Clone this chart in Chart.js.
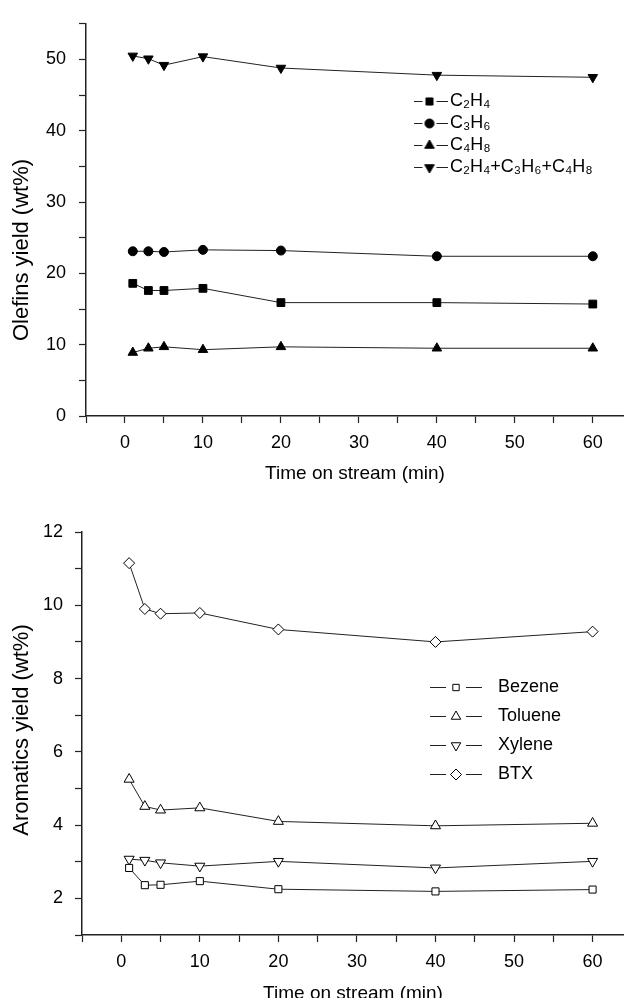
<!DOCTYPE html>
<html>
<head>
<meta charset="utf-8">
<script src="https://cdn.jsdelivr.net/npm/chart.js@4.4.1/dist/chart.umd.min.js"></script>
<style>
  html, body { margin: 0; padding: 0; background: #fff; overflow: hidden; }
  canvas { position: absolute; left: 0; }
  #olefinsChart { top: 0; }
  #aromaticsChart { top: 488px; }
</style>
</head>
<body>
<canvas id="olefinsChart" width="624" height="488"></canvas>
<canvas id="aromaticsChart" width="624" height="520"></canvas>
<script>
// time on stream (min)
const times = [1, 3, 5, 10, 20, 40, 60];

// olefins yield (wt%)
const ethylene = [18.6, 17.6, 17.6, 17.9, 15.9, 15.9, 15.7];
const propylene = [23.1, 23.1, 23.0, 23.3, 23.2, 22.4, 22.4];
const butylene = [8.9, 9.5, 9.7, 9.3, 9.7, 9.5, 9.5];
const olefinsTotal = [50.5, 50.1, 49.2, 50.4, 48.8, 47.8, 47.5];

// aromatics yield (wt%)
const benzene = [2.83, 2.36, 2.37, 2.47, 2.25, 2.19, 2.24];
const toluene = [5.25, 4.51, 4.41, 4.47, 4.10, 3.98, 4.05];
const xylene = [3.07, 3.04, 2.97, 2.88, 3.01, 2.83, 3.01];
const btx = [11.15, 9.90, 9.77, 9.79, 9.34, 9.00, 9.28];

const olefinLabels = ['C₂H₄', 'C₃H₆', 'C₄H₈', 'C₂H₄+C₃H₆+C₄H₈'];
const aromaticLabels = ['Bezene', 'Toluene', 'Xylene', 'BTX'];

Chart.defaults.font.family = "'Liberation Sans', Arial, sans-serif";
Chart.defaults.color = '#000';

function series(label, values, style, rotation, radius, fill) {
  return {
    label: label,
    data: times.map((t, i) => ({ x: t, y: values[i] })),
    borderColor: '#222',
    borderWidth: 1,
    tension: 0,
    pointStyle: style,
    pointRotation: rotation,
    pointRadius: radius,
    pointBackgroundColor: fill,
    pointBorderColor: '#000',
    pointBorderWidth: 1
  };
}

// little "—marker—" picture for the legend
function legendSymbol(style, rotation, radius, fill, width, gap) {
  const c = document.createElement('canvas');
  c.width = width;
  c.height = 16;
  const g = c.getContext('2d');
  const mid = width / 2, y = 8.5;
  g.strokeStyle = '#222';
  g.lineWidth = 1;
  g.beginPath();
  g.moveTo(0, y); g.lineTo(mid - gap, y);
  g.moveTo(mid + gap, y); g.lineTo(width, y);
  g.stroke();
  g.fillStyle = fill;
  g.strokeStyle = '#000';
  Chart.helpers.drawPoint(g, { pointStyle: style, rotation: rotation, radius: radius, borderWidth: 1 }, mid, y);
  return c;
}

const olefinSymbols = [
  legendSymbol('rect', 0, 5, '#000', 36, 7),
  legendSymbol('circle', 0, 4.5, '#000', 36, 7),
  legendSymbol('triangle', 0, 5.5, '#000', 36, 7),
  legendSymbol('triangle', 180, 5.5, '#000', 36, 7)
];
const aromaticSymbols = [
  legendSymbol('rect', 0, 4.5, '#fff', 52, 10),
  legendSymbol('triangle', 0, 5.5, '#fff', 52, 10),
  legendSymbol('triangle', 180, 5.5, '#fff', 52, 10),
  legendSymbol('rectRot', 0, 5.5, '#fff', 52, 10)
];

// put the legend box where the original has it
const placeLegend = {
  id: 'placeLegend',
  afterLayout(chart, args, opts) {
    const lg = chart.legend;
    const w = lg.width, h = lg.height;
    lg.left = opts.x; lg.top = opts.y;
    lg.right = opts.x + w; lg.bottom = opts.y + h;
  }
};

// rotated y-axis title at a fixed spot
const sideTitle = {
  id: 'sideTitle',
  afterDraw(chart, args, opts) {
    const ctx = chart.ctx;
    ctx.save();
    ctx.translate(opts.x, opts.y);
    ctx.rotate(-Math.PI / 2);
    ctx.font = opts.font;
    ctx.fillStyle = '#000';
    ctx.textAlign = 'center';
    ctx.textBaseline = 'middle';
    ctx.fillText(opts.text, 0, 0);
    ctx.restore();
  }
};

function timeAxis(height) {
  return {
    type: 'linear',
    min: -5,
    max: 64,
    afterFit: s => { s.height = height; s.paddingLeft = 0; s.paddingRight = 0; },
    ticks: {
      stepSize: 5, includeBounds: false, autoSkip: false, maxRotation: 0, padding: 9,
      font: { size: 18 }, color: '#000',
      callback: v => (v >= 0 && v % 10 === 0) ? v : ''
    },
    grid: { drawOnChartArea: false, tickLength: 7, tickColor: '#222', tickWidth: 1.2 },
    border: { color: '#222', width: 1.5 },
    title: { display: true, text: 'Time on stream (min)', font: { size: 19 }, color: '#000', padding: { top: 0, bottom: 2.6 } }
  };
}

function legendOpts(symbols, boxW, pad) {
  return {
    position: 'chartArea',
    align: 'start',
    labels: {
      usePointStyle: true,
      pointStyleWidth: boxW,
      padding: pad,
      font: { size: 18 },
      color: '#000',
      generateLabels: chart => Chart.defaults.plugins.legend.labels.generateLabels(chart)
        .map((item, i) => Object.assign(item, { pointStyle: symbols[i], rotation: 0 }))
    }
  };
}

// Olefins
new Chart(document.getElementById('olefinsChart'), {
  type: 'line',
  data: {
    datasets: [
      series(olefinLabels[0], ethylene, 'rect', 0, 5.5, '#000'),
      series(olefinLabels[1], propylene, 'circle', 0, 4.5, '#000'),
      series(olefinLabels[2], butylene, 'triangle', 0, 5.5, '#000'),
      series(olefinLabels[3], olefinsTotal, 'triangle', 180, 5.5, '#000')
    ]
  },
  options: {
    responsive: false,
    animation: false,
    layout: { autoPadding: false, padding: { top: 14, right: 0, bottom: 0, left: 0 } },
    scales: {
      x: timeAxis(72),
      y: {
        type: 'linear', min: 0, max: 55,
        afterFit: s => { s.width = 86; },
        ticks: { stepSize: 5, padding: 13, font: { size: 18 }, color: '#000', callback: v => v % 10 === 0 ? v : '' },
        grid: { drawOnChartArea: false, tickLength: 7, tickColor: '#222', tickWidth: 1.2 },
        border: { color: '#222', width: 1.5 }
      }
    },
    plugins: {
      legend: legendOpts(olefinSymbols, 23, 4),
      tooltip: { enabled: false },
      placeLegend: { x: 414, y: 88 },
      sideTitle: { text: 'Olefins yield (wt%)', x: 22, y: 250, font: "22px 'Liberation Sans', Arial, sans-serif" }
    }
  },
  plugins: [placeLegend, sideTitle]
});

// Aromatics
new Chart(document.getElementById('aromaticsChart'), {
  type: 'line',
  data: {
    datasets: [
      series(aromaticLabels[0], benzene, 'rect', 0, 5, '#fff'),
      series(aromaticLabels[1], toluene, 'triangle', 0, 5.8, '#fff'),
      series(aromaticLabels[2], xylene, 'triangle', 180, 5.8, '#fff'),
      series(aromaticLabels[3], btx, 'rectRot', 0, 5.5, '#fff')
    ]
  },
  options: {
    responsive: false,
    animation: false,
    layout: { autoPadding: false, padding: { top: 44, right: 0, bottom: 0, left: 0 } },
    scales: {
      x: timeAxis(73),
      y: {
        type: 'linear', min: 1, max: 12,
        afterFit: s => { s.width = 82; },
        ticks: { stepSize: 1, padding: 12, font: { size: 18 }, color: '#000', callback: v => v % 2 === 0 ? v : '' },
        grid: { drawOnChartArea: false, tickLength: 7, tickColor: '#222', tickWidth: 1.2 },
        border: { color: '#222', width: 1.5 }
      }
    },
    plugins: {
      legend: legendOpts(aromaticSymbols, 66, 11),
      tooltip: { enabled: false },
      placeLegend: { x: 412, y: 179 },
      sideTitle: { text: 'Aromatics yield (wt%)', x: 22, y: 242, font: "22px 'Liberation Sans', Arial, sans-serif" }
    }
  },
  plugins: [placeLegend, sideTitle]
});
</script>
</body>
</html>
